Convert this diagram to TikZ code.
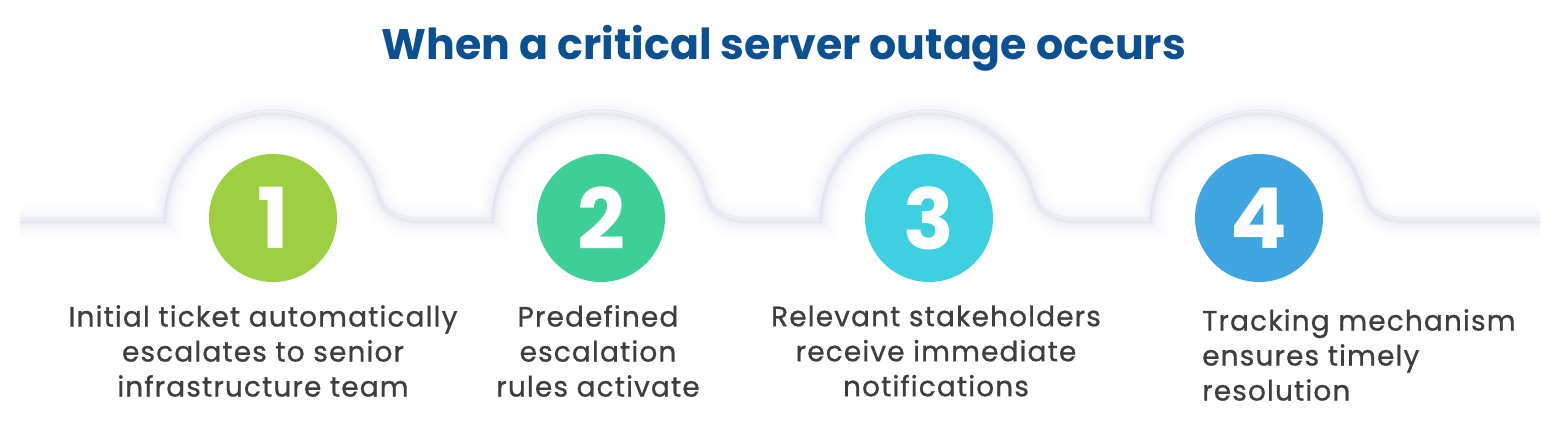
\documentclass[tikz,border=0pt]{standalone}
\usepackage{fontspec}
\setmainfont{Poppins}
\newfontfamily\medfont{Poppins}[FakeBold=0.8,LetterSpace=4]
\definecolor{titleblue}{RGB}{12,80,145}
\definecolor{labelgray}{RGB}{62,62,62}
\definecolor{shadowc}{RGB}{196,200,226}
\definecolor{cA}{RGB}{158,207,66}
\definecolor{cB}{RGB}{62,206,152}
\definecolor{cC}{RGB}{62,208,225}
\definecolor{cD}{RGB}{64,165,225}
\newcommand\wavebump[1]{(#1-108,-218) arc[start angle=180,end angle=15,radius=108]
  .. controls (#1+109,-207.4) and (#1+122,-218) .. (#1+150,-218)}
\newcommand\wavepath[1]{\draw[#1] (20,-218) -- \wavebump{273} -- \wavebump{601} -- \wavebump{929} -- \wavebump{1259} -- (1540,-218);}
\tikzset{
  numcirc/.style={circle, minimum size=128pt, inner sep=0pt, text=white, font=\fontsize{84}{84}\selectfont\bfseries},
  steplabel/.style={text=labelgray, font=\fontsize{28}{35}\selectfont\medfont, align=center, inner sep=0pt},
}
\begin{document}
\begin{tikzpicture}[x=1pt,y=1pt]
\useasboundingbox (0,-427) rectangle (1562,0);
\fill[white] (0,-427) rectangle (1562,0);
% soft shadow of the wavy band
\foreach \w/\o in {32/0.03,24/0.04,16/0.06,10/0.08,5/0.12,2/0.16}{
  \begin{scope}[yshift=-4pt]
  \wavepath{line width=\w pt, draw=shadowc, opacity=\o}
  \end{scope}
}
\wavepath{line width=0.8pt, draw=shadowc!60, opacity=0.6}
% title
\node[text=titleblue, font=\fontsize{42.7}{43}\selectfont\bfseries] (title) at (784,-48) {When a critical server outage occurs};
% circles
\node[numcirc, fill=cA] (n1) at (273,-218) {1};
\node[numcirc, fill=cB] (n2) at (601,-218) {2};
\node[numcirc, fill=cC] (n3) at (929,-218) {3};
\node[numcirc, fill=cD] (n4) at (1259,-218) {4};
% labels
\node[steplabel] (t1) at (263,-351) {Initial ticket automatically\\escalates to senior\\infrastructure team};
\node[steplabel] (t2) at (598,-351) {Predefined\\escalation\\rules activate};
\node[steplabel] (t3) at (936,-351) {Relevant stakeholders\\receive immediate\\notifications};
\node[steplabel, align=left, anchor=west] (t4) at (1202,-355) {Tracking mechanism\\ensures timely\\resolution};
\end{tikzpicture}
\end{document}
